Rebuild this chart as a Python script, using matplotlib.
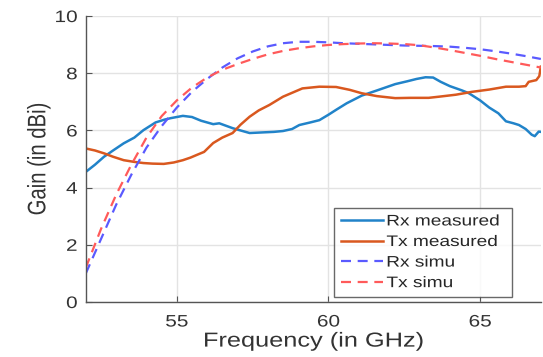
import matplotlib
matplotlib.use("Agg")
import matplotlib.pyplot as plt
from matplotlib.patheffects import AbstractPathEffect
from matplotlib.transforms import Affine2D

plt.rcParams['font.family'] = ['Liberation Sans', 'DejaVu Sans']

# Measured gain curves
rx_meas_f = [52.0, 52.3, 52.6, 52.9, 53.25, 53.6, 53.9, 54.3, 54.6, 54.8, 55.0, 55.2, 55.5, 55.8,
             56.2, 56.4, 56.84, 57.1, 57.4, 57.8, 58.2, 58.5, 58.8, 59.04, 59.4, 59.7, 60.0,
             60.25, 60.6, 61.1, 61.6, 62.2, 62.6, 62.9, 63.2, 63.45, 63.7, 64.0, 64.4, 64.63,
             65.0, 65.3, 65.6, 65.85, 66.1, 66.28, 66.5, 66.7, 66.8, 66.93, 67.0]
rx_meas_g = [4.55, 4.8, 5.08, 5.3, 5.55, 5.75, 6.01, 6.28, 6.38, 6.43, 6.47, 6.51, 6.47, 6.34,
             6.22, 6.25, 6.08, 6.0, 5.91, 5.93, 5.95, 5.98, 6.05, 6.19, 6.28, 6.36, 6.55,
             6.72, 6.95, 7.22, 7.4, 7.62, 7.72, 7.8, 7.86, 7.85, 7.7, 7.55, 7.4, 7.3,
             7.05, 6.8, 6.6, 6.32, 6.25, 6.19, 6.05, 5.85, 5.8, 5.96, 5.95]

tx_meas_f = [52.0, 52.3, 52.6, 52.9, 53.25, 53.6, 53.9, 54.2, 54.57, 54.9, 55.2, 55.45, 55.65,
             55.9, 56.2, 56.5, 56.84, 57.1, 57.4, 57.7, 58.05, 58.5, 59.14, 59.7, 60.25,
             60.7, 61.1, 61.6, 62.2, 62.7, 63.3, 63.64, 64.2, 64.73, 65.3, 65.85, 66.28,
             66.5, 66.6, 66.85, 66.95, 67.0]
tx_meas_g = [5.37, 5.3, 5.2, 5.08, 4.96, 4.9, 4.86, 4.84, 4.83, 4.88, 4.96, 5.05, 5.14,
             5.25, 5.56, 5.75, 5.91, 6.2, 6.48, 6.7, 6.89, 7.18, 7.47, 7.53, 7.52,
             7.42, 7.3, 7.2, 7.13, 7.14, 7.14, 7.18, 7.25, 7.35, 7.43, 7.53, 7.53,
             7.55, 7.7, 7.76, 7.9, 8.23]

# Simulated gain curves
simu_f = [52.0, 52.5, 53.0, 53.5, 54.0, 54.5, 55.0, 55.5, 56.0, 56.5, 57.0, 57.5, 58.0, 58.5,
          59.0, 59.5, 60.0, 60.5, 61.0, 61.5, 62.0, 62.5, 63.0, 63.5, 64.0, 64.5, 65.0,
          65.5, 66.0, 66.5, 67.0]
rx_simu_g = [1.0, 2.2, 3.4, 4.45, 5.4, 6.15, 6.8, 7.35, 7.8, 8.2, 8.52, 8.76, 8.94, 9.05,
             9.1, 9.1, 9.08, 9.05, 9.03, 9.01, 8.99, 8.97, 8.96, 8.95, 8.93, 8.89, 8.84,
             8.77, 8.69, 8.6, 8.5]
tx_simu_g = [1.2, 2.55, 3.75, 4.8, 5.75, 6.5, 7.05, 7.5, 7.85, 8.12, 8.32, 8.5, 8.66, 8.78,
             8.87, 8.94, 8.99, 9.02, 9.04, 9.05, 9.04, 9.02, 8.98, 8.9, 8.81, 8.71, 8.61,
             8.5, 8.4, 8.3, 8.2]

x_ticks = [55, 60, 65]
y_ticks = [0, 2, 4, 6, 8, 10]


class WideText(AbstractPathEffect):
    """Draw text paths widened horizontally about a chosen edge."""

    def __init__(self, sx=1.25, anchor='center'):
        super().__init__()
        self._sx = sx
        self._anchor = anchor

    def draw_path(self, renderer, gc, tpath, affine, rgbFace=None):
        ext = affine.transform_path(tpath).get_extents()
        if self._anchor == 'left':
            cx = ext.x0
        elif self._anchor == 'right':
            cx = ext.x1
        else:
            cx = 0.5 * (ext.x0 + ext.x1)
        widen = Affine2D().translate(-cx, 0).scale(self._sx, 1.0).translate(cx, 0)
        renderer.draw_path(gc, tpath, affine + widen, rgbFace)


SX = 1.25
TXT = '#333333'

fig = plt.figure(figsize=(5.43, 3.57), dpi=100)
ax = fig.add_axes([0.158, 0.154, 0.838, 0.801])

ax.plot(rx_meas_f, rx_meas_g, color='#2183c9', lw=1.8, label='Rx measured')
ax.plot(tx_meas_f, tx_meas_g, color='#d9581f', lw=1.8, label='Tx measured')
ax.plot(simu_f, rx_simu_g, color='#5a5aff', lw=1.6, ls=(0, (4.5, 3)), label='Rx simu')
ax.plot(simu_f, tx_simu_g, color='#ff5a5a', lw=1.6, ls=(0, (4.5, 3)), label='Tx simu')

ax.set_xlim(52, 67)
ax.set_ylim(0, 10)
ax.set_xticks(x_ticks)
ax.set_yticks(y_ticks)
ax.grid(True, color='#e3e3e3', lw=1.0)
ax.set_axisbelow(True)

for side in ('top', 'right'):
    ax.spines[side].set_visible(False)
for side in ('left', 'bottom'):
    ax.spines[side].set_color('#555555')
    ax.spines[side].set_linewidth(1.0)
ax.tick_params(direction='in', length=4, width=0.8, color='#555555',
               labelsize=12, labelcolor=TXT)
ax.tick_params(axis='y', pad=6)
ax.tick_params(axis='x', pad=9)

for lab in ax.get_xticklabels():
    lab.set_path_effects([WideText(SX, 'center')])
for lab in ax.get_yticklabels():
    lab.set_path_effects([WideText(SX, 'right')])

xl = ax.set_xlabel('Frequency (in GHz)', fontsize=14.6, color=TXT, labelpad=1.5)
yl = ax.set_ylabel('Gain (in dBi)', fontsize=14.6, color=TXT)
ax.yaxis.set_label_coords(-0.083, 0.5)
xl.set_path_effects([WideText(SX, 'center')])
yl.set_path_effects([WideText(SX, 'center')])

leg = ax.legend(loc='lower left', bbox_to_anchor=(0.545, 0.0175, 0.391, 0.3),
                mode='expand', borderaxespad=0, fontsize=11, frameon=True,
                fancybox=False, handlelength=2.8, handletextpad=0.2,
                labelspacing=0.43, borderpad=0.45)
leg.get_frame().set_edgecolor('#444444')
leg.get_frame().set_linewidth(1.0)
for t in leg.get_texts():
    t.set_color('#262626')
    t.set_path_effects([WideText(SX, 'left')])

fig.savefig('out.png', dpi=100)
